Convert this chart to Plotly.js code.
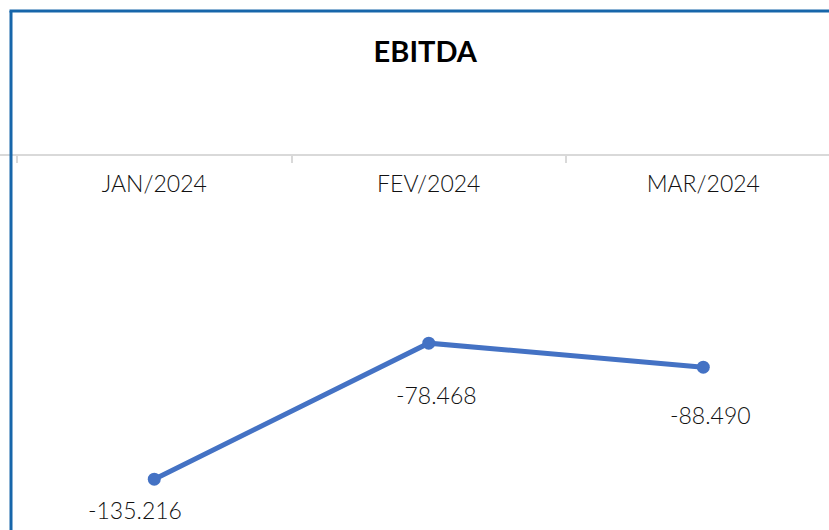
<!DOCTYPE html>
<html>
<head>
<meta charset="utf-8">
<script src="https://cdn.plot.ly/plotly-3.0.1.min.js"></script>
<style>html,body{margin:0;padding:0;background:#fff;}#chart{width:829px;height:530px;}</style>
</head>
<body>
<div id="chart"></div>
<script>
const categories = ["JAN/2024", "FEV/2024", "MAR/2024"];
const ebitda = [-135.216, -78.468, -88.490];
const valueLabels = ["-135.216", "-78.468", "-88.490"];

const FONT = "Lato, 'DejaVu Sans', sans-serif";
const labelShift = [[-19, 31], [8, 52], [7, 48]];

const trace = {
  type: "scatter",
  mode: "lines+markers",
  x: categories,
  y: ebitda,
  line: {color: "#4472C4", width: 5},
  marker: {color: "#4472C4", size: 13},
  hoverinfo: "skip",
  cliponaxis: false
};

const annotations = categories.map((c, i) => ({
  x: c, y: ebitda[i], xref: "x", yref: "y",
  text: valueLabels[i], showarrow: true, arrowcolor: "rgba(0,0,0,0)",
  ax: labelShift[i][0], ay: labelShift[i][1],
  font: {family: FONT, size: 23, weight: 300, color: "#111111"}
}));

const layout = {
  width: 829, height: 530,
  margin: {l: 0, r: 0, t: 0, b: 0},
  paper_bgcolor: "#ffffff", plot_bgcolor: "#ffffff",
  showlegend: false,
  title: {
    text: "<b>EBITDA</b>",
    x: 0.513, xanchor: "center", xref: "paper",
    y: 0.902, yanchor: "middle", yref: "paper",
    font: {family: FONT, size: 29, color: "#000000"}
  },
  xaxis: {
    type: "category",
    range: [-0.562, 2.458],
    domain: [0, 1],
    anchor: "free", position: 0.70755, side: "bottom",
    showline: true, linecolor: "#d9d9d9", linewidth: 2,
    ticks: "outside", tickson: "boundaries", ticklen: 7, tickcolor: "#d9d9d9", tickwidth: 2,
    ticklabelstandoff: 8,
    tickfont: {family: FONT, size: 23, weight: 300, color: "#111111"},
    showgrid: false, zeroline: false, fixedrange: true
  },
  yaxis: {
    range: [-156.4, 0],
    domain: [0, 0.70755],
    visible: false, showgrid: false, zeroline: false, fixedrange: true
  },
  annotations: annotations,
  shapes: [
    {type: "line", xref: "paper", yref: "paper", x0: 11/829, x1: 11/829, y0: -0.1, y1: 1 - 11/530,
     line: {color: "#1766AA", width: 3}},
    {type: "line", xref: "paper", yref: "paper", x0: 9.5/829, x1: 1.1, y0: 1 - 11/530, y1: 1 - 11/530,
     line: {color: "#1766AA", width: 3}}
  ]
};

Plotly.newPlot("chart", [trace], layout, {displayModeBar: false, staticPlot: true});
</script>
</body>
</html>
